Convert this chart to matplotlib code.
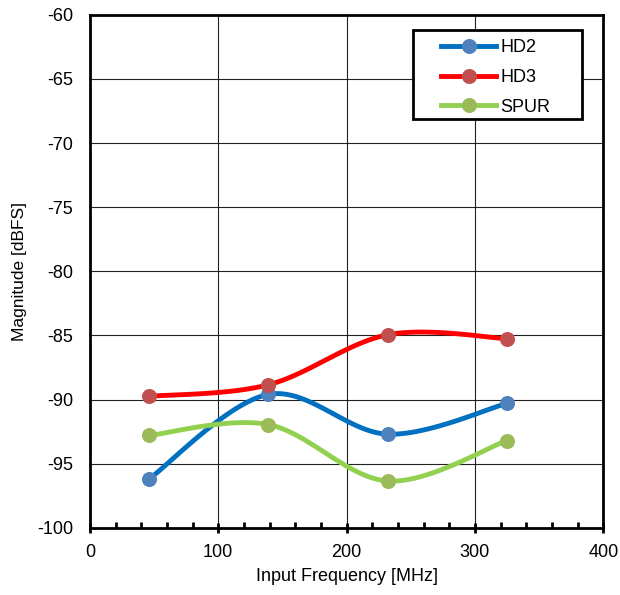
import numpy as np
import matplotlib.pyplot as plt
from matplotlib.patches import Rectangle
from matplotlib.ticker import MultipleLocator

plt.rcParams['font.family'] = ['Liberation Sans', 'DejaVu Sans']
plt.rcParams['axes.unicode_minus'] = False

# data
freq = [46, 139, 232, 325]
hd2 = [-96.2, -89.6, -92.7, -90.3]
hd3 = [-89.75, -88.85, -84.95, -85.25]
spur = [-92.8, -91.95, -96.35, -93.2]

series = [
    ("HD2", hd2, "#0070C0", "#4F81BD"),
    ("HD3", hd3, "#FF0000", "#C0504D"),
    ("SPUR", spur, "#92D050", "#9BBB59"),
]


def smooth_curve(x, y, n=40):
    # Excel-style smoothed line: cubic Bezier segments with control points
    # taken from neighbouring points (tension 1/6)
    p = np.column_stack([x, y]).astype(float)
    ext = np.vstack([p[0], p, p[-1]])
    out = []
    t = np.linspace(0, 1, n)[:, None]
    for i in range(len(p) - 1):
        p0, p1, p2, p3 = ext[i], ext[i + 1], ext[i + 2], ext[i + 3]
        c1 = p1 + (p2 - p0) / 6
        c2 = p2 - (p3 - p1) / 6
        seg = ((1 - t) ** 3) * p1 + 3 * ((1 - t) ** 2) * t * c1 + 3 * (1 - t) * t ** 2 * c2 + t ** 3 * p2
        out.append(seg)
    out = np.vstack(out)
    return out[:, 0], out[:, 1]


fig = plt.figure(figsize=(6.2, 5.95), dpi=100)
ax = fig.add_axes([0.145, 0.113, 0.828, 0.862])

for name, vals, lc, mc in series:
    sx, sy = smooth_curve(freq, vals)
    ax.plot(sx, sy, color=lc, lw=3.5, zorder=3)
    ax.plot(freq, vals, 'o', color=mc, ms=9.8, zorder=4)
    # legend proxy
    ax.plot([], [], color=lc, lw=3.5, marker='o', ms=9.8, mfc=mc, mec=mc, label=name)

ax.set_xlim(0, 400)
ax.set_ylim(-100, -60)
ax.xaxis.set_major_locator(MultipleLocator(100))
ax.xaxis.set_minor_locator(MultipleLocator(20))
ax.yaxis.set_major_locator(MultipleLocator(5))
ax.grid(True, which='major', color='#222222', lw=0.8)
ax.set_axisbelow(True)

ax.tick_params(axis='x', which='major', direction='inout', length=7, width=2, labelsize=13, pad=8)
ax.tick_params(axis='x', which='minor', direction='in', length=4, width=2)
ax.tick_params(axis='y', which='major', length=0, labelsize=13, pad=12)
for s in ax.spines.values():
    s.set_linewidth(2)

ax.set_xlabel("Input Frequency [MHz]", fontsize=13, labelpad=5)
ax.set_ylabel("Magnitude [dBFS]", fontsize=12.5, labelpad=7)

# legend box drawn separately so its padding can match
ax.add_patch(Rectangle((0.630, 0.797), 0.329, 0.174, transform=ax.transAxes,
                       facecolor='white', edgecolor='black', lw=2, zorder=5))
leg = ax.legend(loc='upper left', bbox_to_anchor=(0.683, 0.952), fontsize=13,
                frameon=False, handlelength=3.1, borderpad=0, labelspacing=0.7,
                handletextpad=0.2, borderaxespad=0)
leg.set_zorder(6)

fig.savefig("out.png", dpi=100)
